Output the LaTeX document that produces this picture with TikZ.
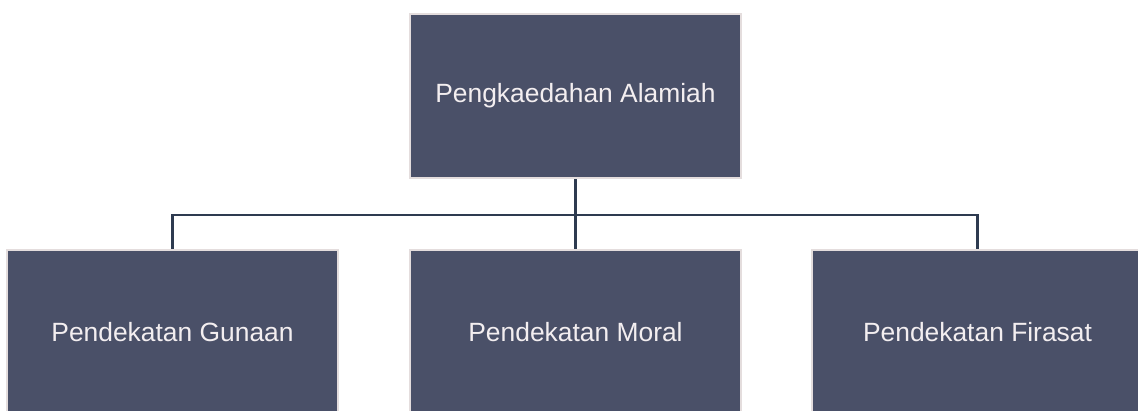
\documentclass[tikz,border=0pt]{standalone}
\usepackage{fontspec}
\setmainfont{Liberation Sans}
\usepackage{xcolor}
\usetikzlibrary{calc}
\definecolor{boxfill}{HTML}{4A5068}
\definecolor{boxrim}{HTML}{E4DDDD}
\definecolor{boxtext}{HTML}{F3EEF0}
\definecolor{linkcol}{HTML}{2E3B50}

\begin{document}
\begin{tikzpicture}[x=1pt, y=-1pt,
  branch/.style = {draw=boxrim, line width=2pt, fill=boxfill, text=boxtext,
    minimum width=331pt, minimum height=164pt, inner sep=0pt,
    font=\fontsize{26.4}{30}\selectfont},
  link/.style = {draw=linkcol, line width=2.4pt}]
\pgfmathsetmacro{\topy}{96}   %centre of the top box
\pgfmathsetmacro{\boty}{332}  %centre of the lower row
\pgfmathsetmacro{\drop}{36}   %from top box down to the bus line
\useasboundingbox (0,0) rectangle (1138,410);
\clip (0,0) rectangle (1138,410);

\node[branch] (root) at (575.5,\topy) {Pengkaedahan Alamiah};
\node[branch] (gunaan) at (172.5,\boty) {Pendekatan Gunaan};
\node[branch] (moral) at (575.5,\boty) {Pendekatan Moral};
\node[branch] (firasat) at (977.5,\boty) {Pendekatan Firasat};

\coordinate (bus) at ($(root.south)+(0,\drop)$);
\draw[link] (root.south) -- (moral.north);
\draw[link] (gunaan.north) |- (bus) -| (firasat.north);
%\path (bus) node[draw, circle, red]{};
\end{tikzpicture}
\end{document}
